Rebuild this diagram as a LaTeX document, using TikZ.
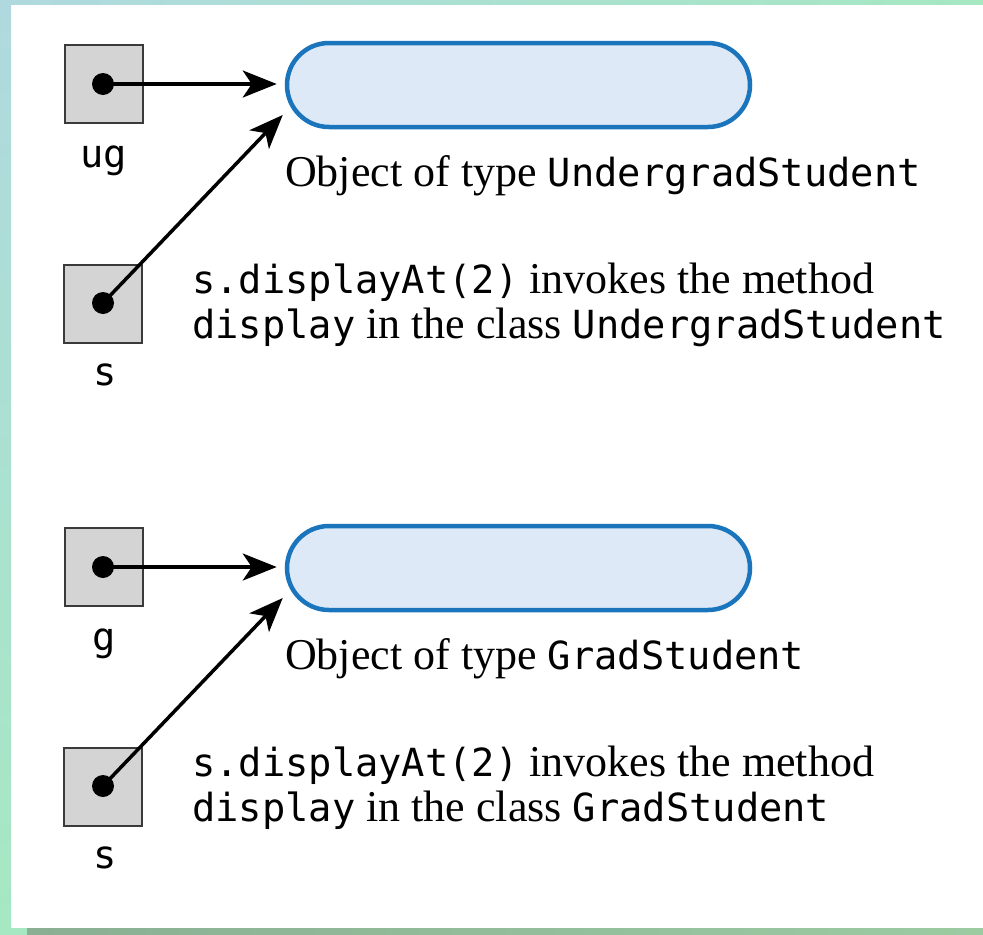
\documentclass[tikz,border=0pt]{standalone}
\usepackage{fontspec}
\setmainfont{Liberation Serif}
\newfontfamily\codefont{DejaVu Sans Mono}[Scale=0.88]
\usepackage{tikz}
\usetikzlibrary{arrows.meta,calc}
\newcommand{\cd}[1]{{\codefont #1}}
\definecolor{varfill}{HTML}{D4D4D4}
\definecolor{varline}{HTML}{3A3A3A}
\definecolor{objfill}{HTML}{DDE9F7}
\definecolor{objline}{HTML}{1B75BC}
\definecolor{edgeblue}{HTML}{B0D9DF}
\definecolor{edgegreen}{HTML}{A6E8C2}
\definecolor{footdark}{HTML}{8AAF93}
\definecolor{footlight}{HTML}{9CCBA2}
\tikzset{
  var/.style={draw=varline,fill=varfill,line width=2bp,minimum size=78bp,
              inner sep=0pt},
  pin/.style={circle,fill=black,minimum size=22bp,inner sep=0pt},
  obj/.style={draw=objline,fill=objfill,line width=4.5bp,rounded corners=42bp,
              minimum width=463bp,minimum height=84bp,inner sep=0pt},
  vname/.style={font=\fontsize{44bp}{45bp}\selectfont\codefont,anchor=base,
                inner sep=0pt},
  note/.style={anchor=base west,inner sep=0pt},
  ptr/.style={-{Stealth[length=34bp,width=27bp,inset=9bp]},line width=3.5bp},
}

\begin{document}
\begin{tikzpicture}[x=1bp,y=-1bp,font=\fontsize{44bp}{45bp}\selectfont]
\useasboundingbox (0,0) rectangle (983,935);
% frame strips
\shade[top color=edgeblue,bottom color=edgegreen] (0,0) rectangle (11,935);
\shade[left color=edgeblue,right color=edgegreen] (0,0) rectangle (983,4);
\fill[edgegreen] (0,928) rectangle (27,935);
\shade[left color=footdark,right color=footlight] (27,928) rectangle (983,935);

% upper case: UndergradStudent
\node[var] (ug) at (104,84) {};
\node[pin] (ugdot) at (103,84) {};
\node[vname] (uglbl) at (104,167) {ug};
\node[obj] (ugobj) at (518.5,85) {};
\node[note] (ugtype) at (285,186) {Object of type \cd{UndergradStudent}};
\node[var] (s1) at (103,304) {};
\node[pin] (s1dot) at (103,303) {};
\node[vname] (s1lbl) at (105,385) {s};
\node[note] (call1a) at (192,293) {\cd{s.displayAt(2)} invokes the method};
\node[note] (call1b) at (192,338) {\cd{display} in the class \cd{UndergradStudent}};
\draw[ptr, shorten >=8bp] (ugdot.center) -- (ugdot -| ugobj.west);
\draw[ptr] (s1dot.center) -- ($(ugobj.west)+(-2,30)$);

% lower case: GradStudent
\node[var] (g) at (104,567) {};
\node[pin] (gdot) at (103,567) {};
\node[vname] (glbl) at (104,650) {g};
\node[obj] (gobj) at (518.5,568) {};
\node[note] (gtype) at (285,669) {Object of type \cd{GradStudent}};
\node[var] (s2) at (103,787) {};
\node[pin] (s2dot) at (103,786) {};
\node[vname] (s2lbl) at (105,868) {s};
\node[note] (call2a) at (192,776) {\cd{s.displayAt(2)} invokes the method};
\node[note] (call2b) at (192,821) {\cd{display} in the class \cd{GradStudent}};
\draw[ptr, shorten >=8bp] (gdot.center) -- (gdot -| gobj.west);
\draw[ptr] (s2dot.center) -- ($(gobj.west)+(-2,30)$);
\end{tikzpicture}
\end{document}
